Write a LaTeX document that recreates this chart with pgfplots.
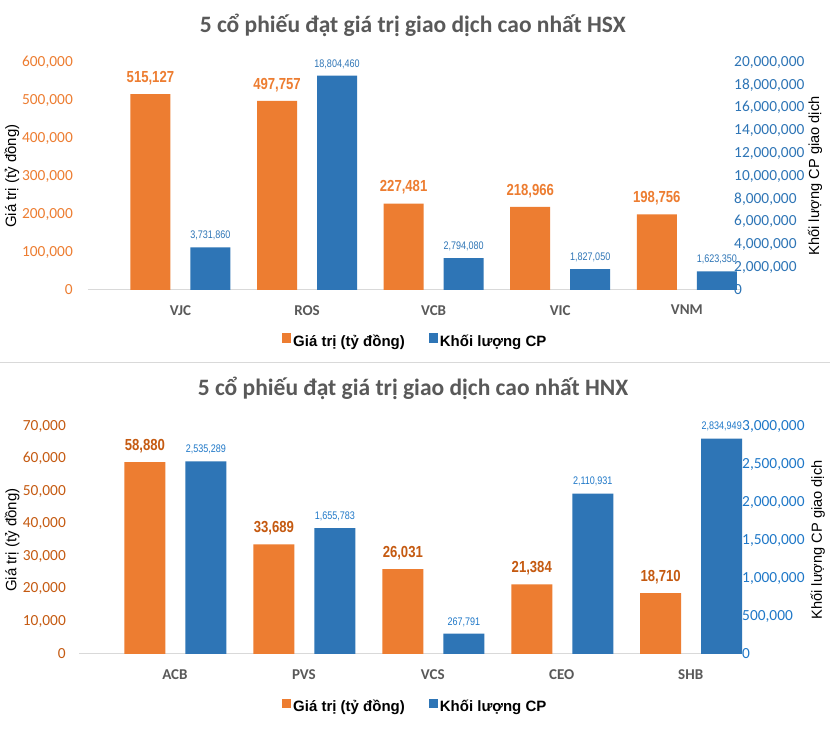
\documentclass[border=0pt]{standalone}
\usepackage{fontspec}
\usepackage{pgfplots}
\usepackage{pgfplotstable}
\pgfplotsset{compat=1.18}
\setmainfont{Carlito}
\newfontfamily\arialf{Liberation Sans}
\newfontfamily\narrowf[FakeStretch=0.82]{Liberation Sans}
\definecolor{orC}{HTML}{ED7D31}
\definecolor{blC}{HTML}{2E75B6}
\definecolor{dkor}{HTML}{C55A11}
\definecolor{brbl}{HTML}{1F78C8}
\definecolor{grT}{HTML}{595959}
\definecolor{grL}{HTML}{D9D9D9}

\pgfplotstableread{
x val lab
0 515127 515,127
1 497757 497,757
2 227481 227,481
3 218966 218,966
4 198756 198,756
}\hsxval
\pgfplotstableread{
x vol lab
0 3731860 3,731,860
1 18804460 18,804,460
2 2794080 2,794,080
3 1827050 1,827,050
4 1623350 1,623,350
}\hsxvol
\pgfplotstableread{
x val lab
0 58880 58,880
1 33689 33,689
2 26031 26,031
3 21384 21,384
4 18710 18,710
}\hnxval
\pgfplotstableread{
x vol lab
0 2535289 2,535,289
1 1655783 1,655,783
2 267791 267,791
3 2110931 2,110,931
4 2834949 2,834,949
}\hnxvol

\newcommand\tickfont{\fontsize{15.4}{18}\selectfont}
\pgfplotsset{
  base/.style={
    scale only axis, anchor=south west,
    clip=false,
    ybar, bar width=40pt,
    ymin=0,
    scaled y ticks=false,
    xtick={0,1,2,3,4},
    major tick length=0pt,
    tick label style={inner sep=0pt},
    legend image code/.code={\fill[##1] (0pt,-1.5pt) rectangle (9pt,8pt);},
  },
}

\begin{document}
\begin{tikzpicture}
\path[use as bounding box] (0pt,0pt) rectangle (830pt,754pt);
\fill[white] (0pt,0pt) rectangle (830pt,754pt);
\draw[grL, line width=1pt] (0pt,391pt) -- (830pt,391pt);

% ===== TOP (HSX) left axis
\begin{axis}[base,
  at={(88pt,464pt)}, width=652pt, height=228pt,
  xmin=-0.73, xmax=4.42, ymax=600000,
  axis x line*=bottom, axis y line*=left,
  x axis line style={draw=grL, line width=1pt, -},
  y axis line style={draw=none},
  xticklabels={VJC,ROS,VCB,VIC,VNM},
  xticklabel style={font=\bfseries\fontsize{15}{18}\selectfont, text=grT, anchor=north, yshift=-15pt},
  ytick={0,100000,200000,300000,400000,500000,600000},
  yticklabels={0,{100,000},{200,000},{300,000},{400,000},{500,000},{600,000}},
  yticklabel style={font=\tickfont, text=orC, anchor=east, xshift=-15pt},
  bar shift=-30pt,
  title={5 cổ phiếu đạt giá trị giao dịch cao nhất HSX},
  title style={at={(0.498,1.135)}, anchor=center, font=\bfseries\fontsize{23.5}{28}\selectfont, text=grT},
  ylabel={Giá trị (tỷ đồng)},
  ylabel style={at={(-0.1166,0.5)}, anchor=center, font=\arialf\fontsize{15}{18}\selectfont},
  nodes near coords, point meta=explicit symbolic,
  nodes near coords style={font=\narrowf\bfseries\fontsize{16}{19}\selectfont, text=orC, anchor=south, inner sep=0pt, yshift=9pt},
]
\addplot[fill=orC, draw=none] table[x=x, y=val, meta=lab] {\hsxval};
\end{axis}

% ===== TOP (HSX) right axis
\begin{axis}[base,
  at={(88pt,464pt)}, width=652pt, height=228pt,
  xmin=-0.73, xmax=4.42, ymax=20000000,
  axis x line=none, axis y line*=right,
  y axis line style={draw=none},
  xticklabels={},
  ytick={0,2000000,4000000,6000000,8000000,10000000,12000000,14000000,16000000,18000000,20000000},
  yticklabels={0,{2,000,000},{4,000,000},{6,000,000},{8,000,000},{10,000,000},{12,000,000},{14,000,000},{16,000,000},{18,000,000},{20,000,000}},
  yticklabel style={font=\tickfont, text=blC, anchor=west, xshift=-6pt},
  bar shift=30pt,
  ylabel={Khối lượng CP giao dịch},
  ylabel style={at={(1.115,0.5)}, anchor=center, font=\arialf\fontsize{14.6}{18}\selectfont},
  nodes near coords, point meta=explicit symbolic,
  nodes near coords style={font=\narrowf\fontsize{11}{13}\selectfont, text=blC, anchor=south, inner sep=0pt, yshift=7pt},
  legend columns=2,
  legend cell align=left,
  legend style={draw=none, fill=none, at={(0.502,-0.224)}, anchor=center,
    font=\arialf\bfseries\fontsize{15}{18}\selectfont,
    /tikz/every even column/.append style={column sep=22pt}},
]
\addlegendimage{fill=orC, draw=none}
\addlegendentry{Giá trị (tỷ đồng)}
\addplot[fill=blC, draw=none] table[x=x, y=vol, meta=lab] {\hsxvol};
\addlegendentry{Khối lượng CP}
\end{axis}

% ===== BOTTOM (HNX) left axis
\begin{axis}[base,
  at={(79pt,100pt)}, width=662pt, height=228pt,
  xmin=-0.744, xmax=4.39, ymax=70000,
  axis x line*=bottom, axis y line*=left,
  x axis line style={draw=grL, line width=1pt, -},
  y axis line style={draw=none},
  xticklabels={ACB,PVS,VCS,CEO,SHB},
  xticklabel style={font=\bfseries\fontsize{15}{18}\selectfont, text=grT, anchor=north, yshift=-15pt},
  ytick={0,10000,20000,30000,40000,50000,60000,70000},
  yticklabels={0,{10,000},{20,000},{30,000},{40,000},{50,000},{60,000},{70,000}},
  yticklabel style={font=\tickfont, text=dkor, anchor=east, xshift=-13pt},
  bar shift=-30pt, bar width=41pt,
  title={5 cổ phiếu đạt giá trị giao dịch cao nhất HNX},
  title style={at={(0.5045,1.138)}, anchor=center, font=\bfseries\fontsize{23.5}{28}\selectfont, text=grT},
  ylabel={Giá trị (tỷ đồng)},
  ylabel style={at={(-0.101,0.5)}, anchor=center, font=\arialf\fontsize{15}{18}\selectfont},
  nodes near coords, point meta=explicit symbolic,
  nodes near coords style={font=\narrowf\bfseries\fontsize{16}{19}\selectfont, text=dkor, anchor=south, inner sep=0pt, yshift=9pt},
]
\addplot[fill=orC, draw=none] table[x=x, y=val, meta=lab] {\hnxval};
\end{axis}

% ===== BOTTOM (HNX) right axis
\begin{axis}[base,
  at={(79pt,100pt)}, width=662pt, height=228pt,
  xmin=-0.744, xmax=4.39, ymax=3000000,
  axis x line=none, axis y line*=right,
  y axis line style={draw=none},
  xticklabels={},
  ytick={0,500000,1000000,1500000,2000000,2500000,3000000},
  yticklabels={0,{500,000},{1,000,000},{1,500,000},{2,000,000},{2,500,000},{3,000,000}},
  yticklabel style={font=\tickfont, text=brbl, anchor=west, xshift=1pt},
  bar shift=31pt, bar width=41pt,
  ylabel={Khối lượng CP giao dịch},
  ylabel style={at={(1.116,0.5)}, anchor=center, font=\arialf\fontsize{14.6}{18}\selectfont},
  nodes near coords, point meta=explicit symbolic,
  nodes near coords style={font=\narrowf\fontsize{11}{13}\selectfont, text=brbl, anchor=south, inner sep=0pt, yshift=7pt},
  legend columns=2,
  legend cell align=left,
  legend style={draw=none, fill=none, at={(0.508,-0.232)}, anchor=center,
    font=\arialf\bfseries\fontsize{15}{18}\selectfont,
    /tikz/every even column/.append style={column sep=22pt}},
]
\addlegendimage{fill=orC, draw=none}
\addlegendentry{Giá trị (tỷ đồng)}
\addplot[fill=blC, draw=none] table[x=x, y=vol, meta=lab] {\hnxvol};
\addlegendentry{Khối lượng CP}
\end{axis}
\end{tikzpicture}
\end{document}
